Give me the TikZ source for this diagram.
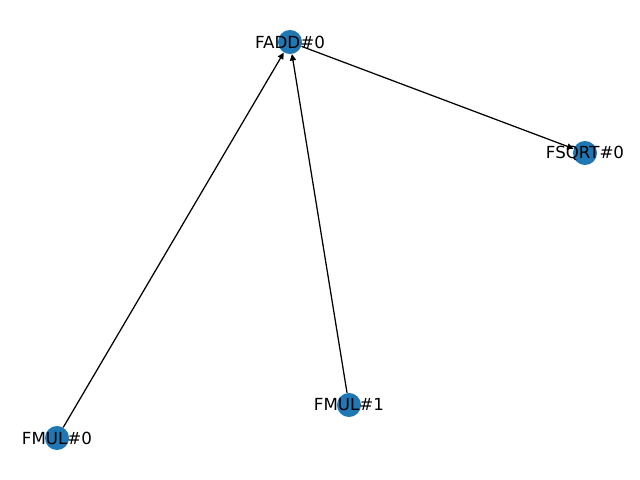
\documentclass[tikz,border=0pt]{standalone}
\usepackage{fontspec}
\setmainfont{DejaVu Sans}
\usepackage{xcolor}
\definecolor{nodeblue}{RGB}{31,119,180}
\usetikzlibrary{arrows.meta}

\begin{document}
\begin{tikzpicture}[x=0.72pt, y=-0.72pt,
    every node/.style={font=\fontsize{12pt}{14pt}\selectfont},
    opnode/.style={circle, fill=nodeblue, minimum size=17.3pt, inner sep=0pt},
    flow/.style={-{Triangle[length=4.6pt, width=4.4pt]}, line width=0.9pt}]
  \useasboundingbox (0,0) rectangle (640,480);

  % Nodes
  \node[opnode, label=center:FADD\#0] (fadd0) at (290,42) {};
  \node[opnode, label=center:FSQRT\#0] (fsqrt0) at (585,153) {};
  \node[opnode, label=center:FMUL\#1] (fmul1) at (349,405) {};
  \node[opnode, label=center:FMUL\#0] (fmul0) at (57,438) {};

  % Edges
  \draw[flow] (fmul0) -- (fadd0);
  \draw[flow] (fmul1) -- (fadd0);
  \draw[flow] (fadd0) -- (fsqrt0);
\end{tikzpicture}
\end{document}
